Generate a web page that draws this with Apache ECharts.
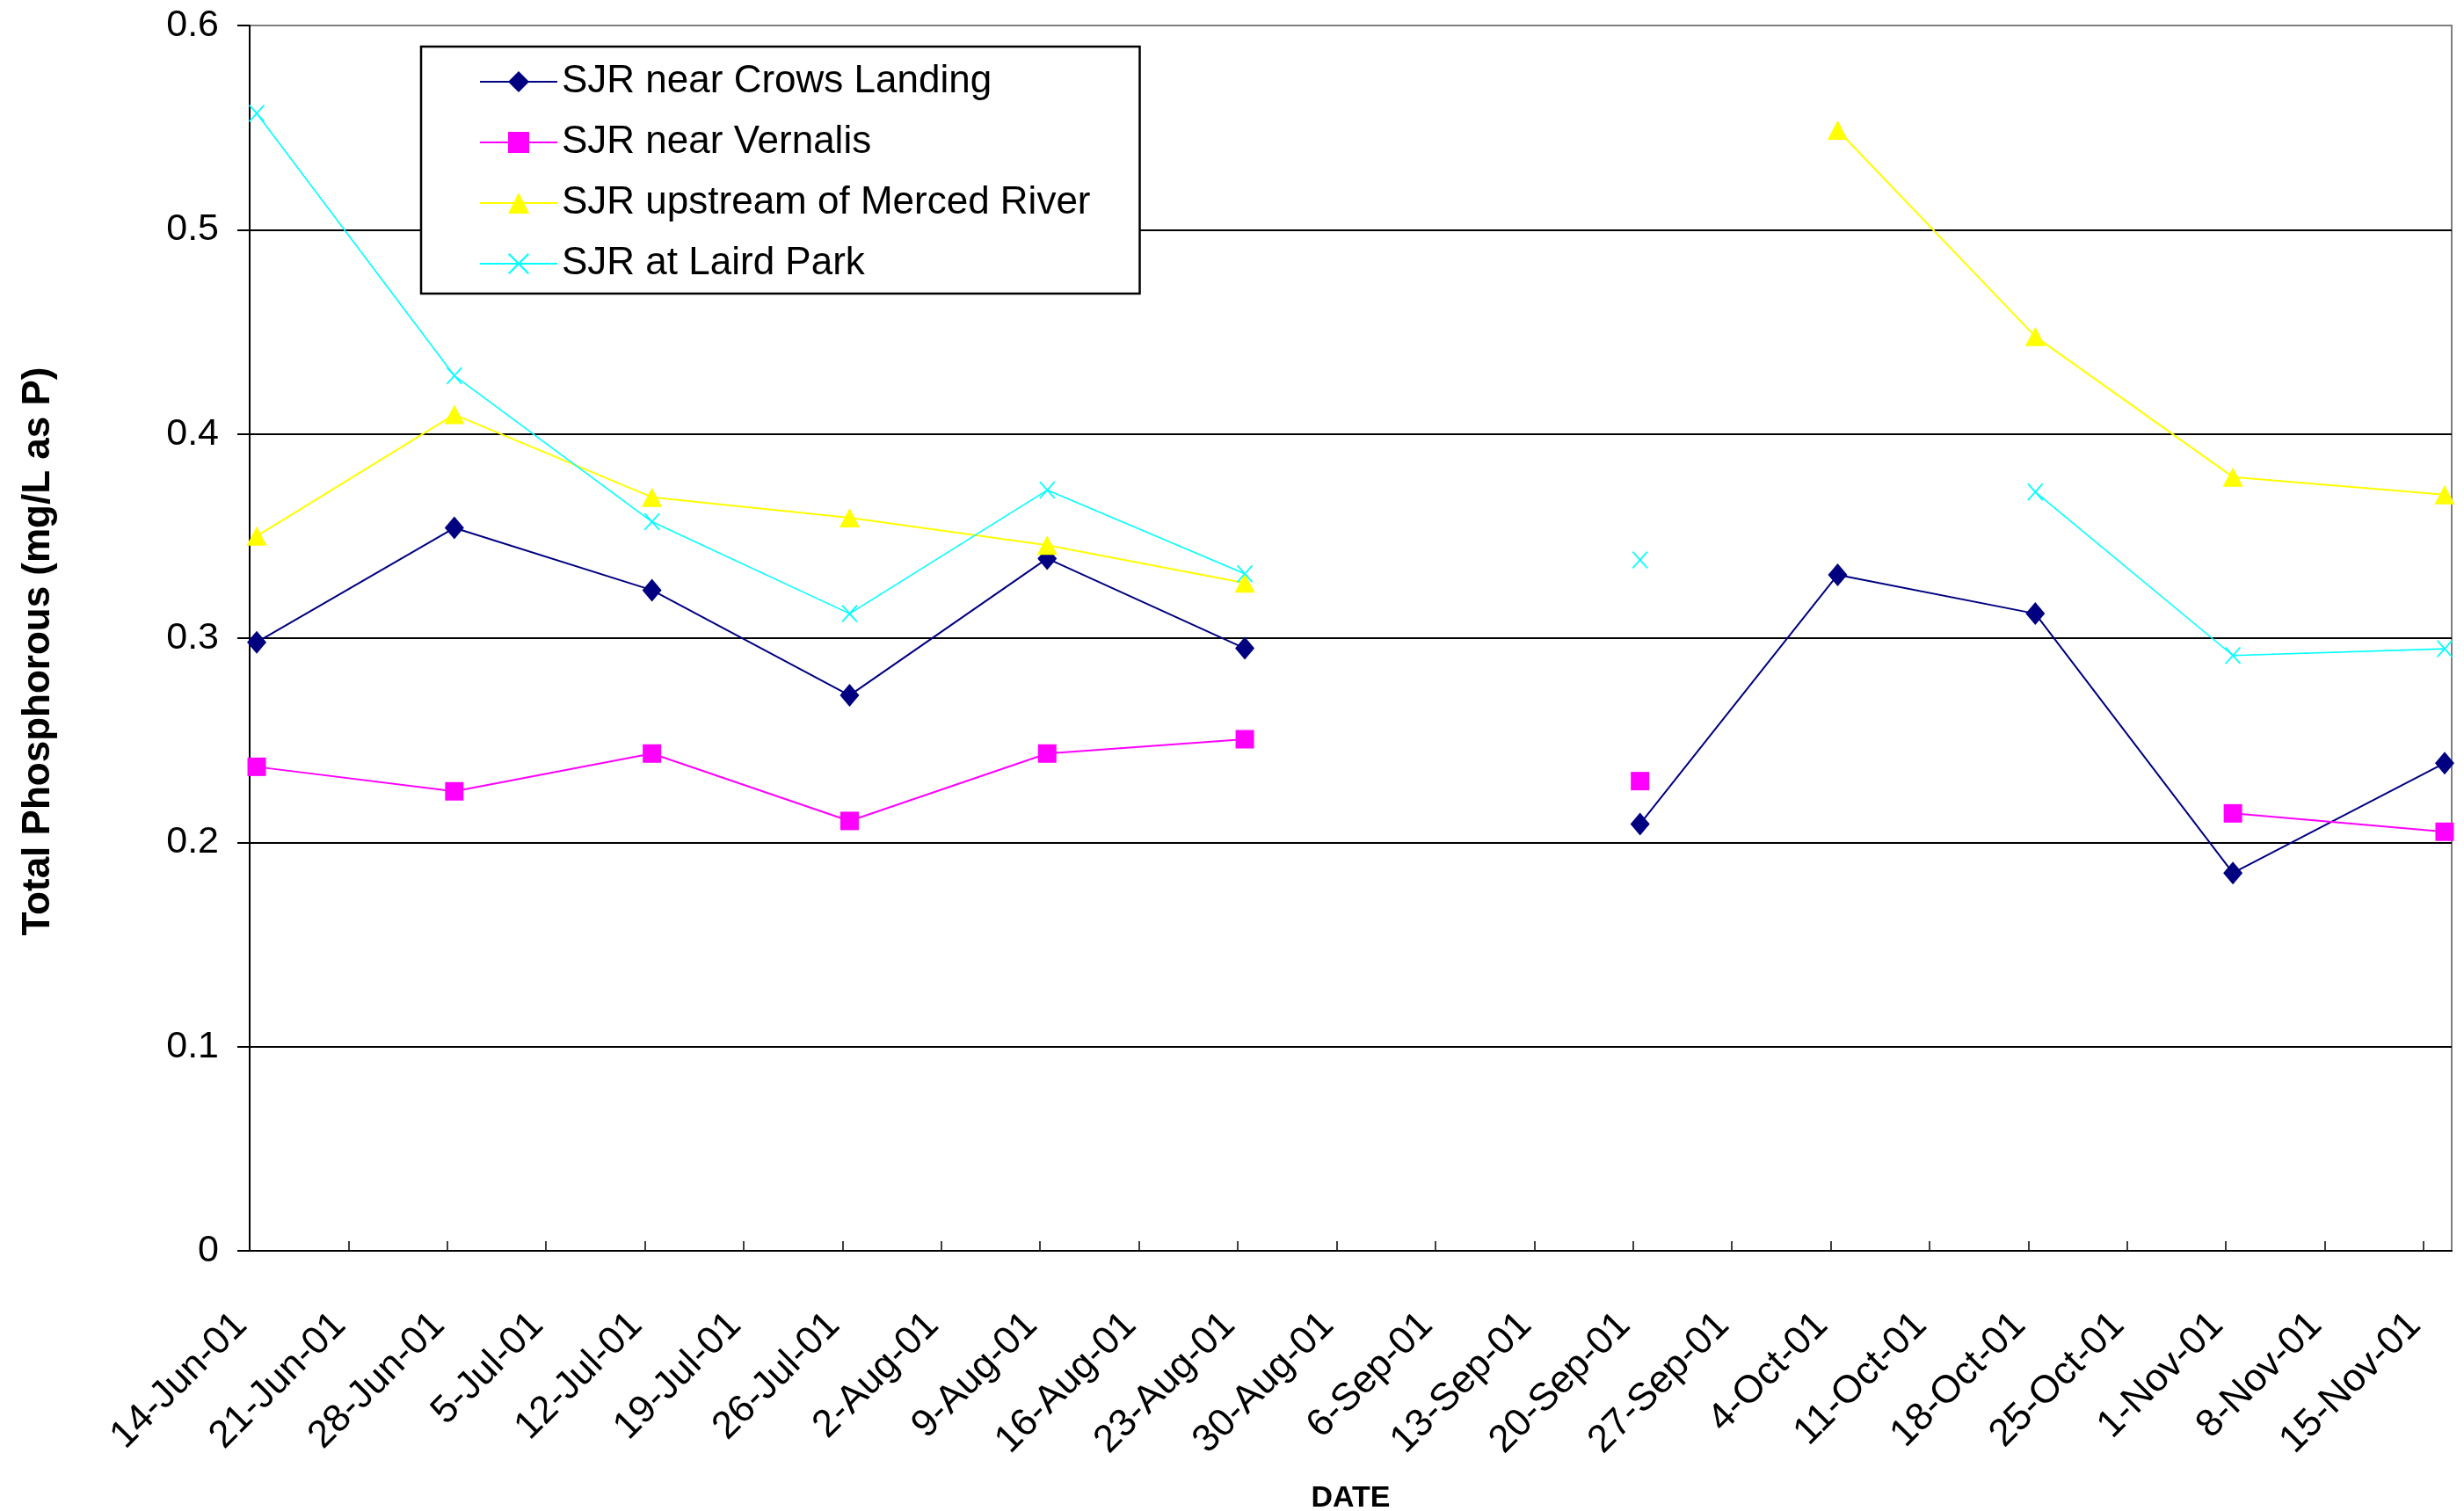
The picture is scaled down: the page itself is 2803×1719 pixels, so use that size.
<!DOCTYPE html>
<html>
<head>
<meta charset="utf-8">
<script src="https://cdn.jsdelivr.net/npm/echarts@6/dist/echarts.min.js"></script>
<style>
html,body{margin:0;padding:0;background:#fff;}
#chart{width:2803px;height:1719px;}
</style>
</head>
<body>
<div id="chart"></div>
<script>
// ---- data ----
var sampleDates = ['2001-06-14','2001-06-28','2001-07-12','2001-07-26','2001-08-09','2001-08-23',
                   '2001-09-06','2001-09-20','2001-10-04','2001-10-18','2001-11-01','2001-11-16'];
var crowsLanding = [0.298, 0.354, 0.3235, 0.272, 0.339, 0.295, null, 0.209, 0.331, 0.312, 0.185, 0.2388];
var vernalis     = [0.237, 0.225, 0.2435, 0.2105, 0.2435, 0.2505, null, 0.230, null, null, 0.2142, 0.2052];
var mercedRiver  = [0.350, 0.4095, 0.369, 0.359, 0.3455, 0.327, null, null, 0.5488, 0.4477, 0.3789, 0.3703];
var lairdPark    = [0.557, 0.4285, 0.357, 0.312, 0.3725, 0.3315, null, 0.3383, null, 0.3716, 0.2915, 0.2948];
var seriesNames  = ['SJR near Crows Landing','SJR near Vernalis','SJR upstream of Merced River','SJR at Laird Park'];
var axisStart = '2001-06-14';
var axisEnd   = '2001-11-17';
var yTicks = [0, 0.1, 0.2, 0.3, 0.4, 0.5, 0.6];
var monthNames = ['Jan','Feb','Mar','Apr','May','Jun','Jul','Aug','Sep','Oct','Nov','Dec'];

// ---- helpers ----
var DAY = 86400000;
function toUTC(s){ var p = s.split('-'); return Date.UTC(+p[0], +p[1]-1, +p[2]); }
var t0 = toUTC(axisStart);
function dayIndex(s){ return Math.round((toUTC(s) - t0) / DAY); }
function dayLabel(d){
  var dt = new Date(t0 + d * DAY);
  return dt.getUTCDate() + '-' + monthNames[dt.getUTCMonth()] + '-' + String(dt.getUTCFullYear()).slice(2);
}
function pairs(vals){
  // Excel date axis places each point in the middle of its day
  return vals.map(function(v, i){ return [dayIndex(sampleDates[i]) + 0.5, v]; });
}

var FONT = "'Liberation Sans', Arial, sans-serif";
var crossPath = 'path://M0,1.3L1.3,0L10,8.7L18.7,0L20,1.3L11.3,10L20,18.7L18.7,20L10,11.3L1.3,20L0,18.7L8.7,10Z';

var chart = echarts.init(document.getElementById('chart'), null, {renderer: 'canvas'});
chart.setOption({
  animation: false,
  backgroundColor: '#ffffff',
  grid: {
    left: 284, right: 14, top: 29, bottom: 296,
    outerBoundsMode: 'none',
    containLabel: false,
    show: true, borderColor: '#808080', borderWidth: 2, backgroundColor: 'transparent'
  },
  legend: {
    orient: 'vertical',
    left: 479, top: 53,
    padding: [17, 56, 11, 66],
    itemWidth: 88, itemHeight: 30,
    itemGap: 23,
    backgroundColor: '#ffffff',
    borderColor: '#000000', borderWidth: 2.5,
    textStyle: {fontFamily: FONT, fontSize: 44, color: '#000', lineHeight: 46},
    data: seriesNames
  },
  xAxis: {
    type: 'value',
    min: 0, max: dayIndex(axisEnd), interval: 7,
    name: 'DATE', nameLocation: 'middle', nameGap: 265,
    nameTextStyle: {fontFamily: FONT, fontSize: 34, fontWeight: 'bold', color: '#000'},
    axisLine: {show: true, onZero: false, lineStyle: {color: '#000', width: 2}},
    axisTick: {show: true, inside: true, length: 11, lineStyle: {color: '#000', width: 1.5}},
    axisLabel: {
      rotate: 45, margin: 68, fontFamily: FONT, fontSize: 44, color: '#000',
      padding: [0, 14, 22, 0],
      showMaxLabel: false,
      formatter: function(v){ return (Math.round(v) % 7 === 0) ? dayLabel(Math.round(v)) : ''; }
    },
    splitLine: {show: false}
  },
  yAxis: {
    type: 'value',
    min: yTicks[0], max: yTicks[yTicks.length - 1], interval: 0.1,
    name: 'Total Phosphorous (mg/L as P)', nameLocation: 'middle', nameGap: 218, nameRotate: 90,
    nameTextStyle: {fontFamily: FONT, fontSize: 44, fontWeight: 'bold', color: '#000', padding: [0, 30, 0, 0]},
    axisLine: {show: true, lineStyle: {color: '#000', width: 2}},
    axisTick: {show: true, inside: false, length: 14, lineStyle: {color: '#000', width: 2}},
    axisLabel: {margin: 35, fontFamily: FONT, fontSize: 43, color: '#000',
      formatter: function(v){ return String(Math.round(v * 10) / 10); }},
    splitLine: {show: true, lineStyle: {color: ['#000','#000','#000','#000','#000','#000','#808080'], width: 2}}
  },
  series: [
    {
      name: seriesNames[0], type: 'line', data: pairs(crowsLanding),
      symbol: 'diamond', symbolSize: [22, 26],
      lineStyle: {color: '#000080', width: 2}, itemStyle: {color: '#000080'}
    },
    {
      name: seriesNames[1], type: 'line', data: pairs(vernalis),
      symbol: 'rect', symbolSize: 21,
      lineStyle: {color: '#FF00FF', width: 2}, itemStyle: {color: '#FF00FF'}
    },
    {
      name: seriesNames[2], type: 'line', data: pairs(mercedRiver),
      symbol: 'triangle', symbolSize: [23, 22],
      lineStyle: {color: '#FFFF00', width: 2}, itemStyle: {color: '#FFFF00'}
    },
    {
      name: seriesNames[3], type: 'line', data: pairs(lairdPark),
      symbol: crossPath, symbolSize: [18, 20],
      lineStyle: {color: '#00FFFF', width: 1.6}, itemStyle: {color: '#00FFFF'}
    }
  ]
});
</script>
</body>
</html>
